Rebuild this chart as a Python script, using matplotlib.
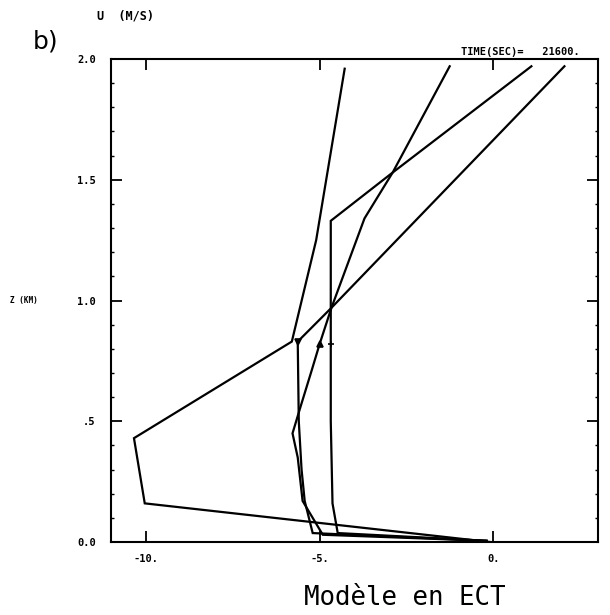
import numpy as np
import matplotlib.pyplot as plt
from matplotlib.ticker import MultipleLocator

# profils U (m/s) en fonction de Z (km)
u1 = [-0.1, -10.03, -10.34, -5.80, -5.10, -4.28]
z1 = [0.0, 0.16, 0.43, 0.83, 1.25, 1.96]

u2 = [-0.2, -5.20, -5.43, -5.52, -5.60, -5.63, -4.66, 2.04]
z2 = [0.005, 0.037, 0.17, 0.30, 0.50, 0.83, 0.97, 1.97]

u3 = [-0.2, -4.48, -4.63, -4.68, -4.68, -2.90, 1.09]
z3 = [0.005, 0.037, 0.16, 0.50, 1.33, 1.53, 1.97]

u4 = [-0.2, -4.91, -5.20, -5.49, -5.63, -5.78, -5.55, -5.23, -5.00,
      -4.66, -3.71, -2.90, -1.26]
z4 = [0.005, 0.03, 0.10, 0.17, 0.35, 0.45, 0.56, 0.71, 0.82,
      0.97, 1.34, 1.53, 1.97]

# marqueurs vers z = 0.82
mk_u = [-5.63, -5.00, -4.68]
mk_z = [0.83, 0.82, 0.82]
mk_s = ["v", "^", "+"]

xticks = [-10, -5, 0]
xlabels = ["-10.", "-5.", "0."]
yticks = [0.0, 0.5, 1.0, 1.5, 2.0]
ylabels = ["0.0", ".5", "1.0", "1.5", "2.0"]

MONO = "DejaVu Sans Mono"

fig = plt.figure(figsize=(6.1, 6.15), dpi=100)
ax = fig.add_axes([0.182, 0.1187, 0.798, 0.7853])

for u, z in [(u1, z1), (u2, z2), (u3, z3), (u4, z4)]:
    ax.plot(u, z, color="black", lw=1.6, solid_joinstyle="miter")
for u, z, m in zip(mk_u, mk_z, mk_s):
    ax.plot(u, z, marker=m, color="black", ms=4, mew=1.2)

ax.set_xlim(-11, 3)
ax.set_ylim(0, 2)
ax.set_xticks(xticks)
ax.set_xticklabels(xlabels, family=MONO, fontsize=7.5, fontweight="bold")
ax.set_yticks(yticks)
ax.set_yticklabels(ylabels, family=MONO, fontsize=7.5, fontweight="bold")
ax.yaxis.set_minor_locator(MultipleLocator(0.1))
ax.tick_params(which="major", direction="in", length=8, width=1.3,
               top=True, right=True)
ax.tick_params(axis="x", which="major", pad=9)
ax.tick_params(axis="y", which="major", pad=11)
ax.tick_params(which="minor", direction="in", length=2.5, width=1,
               left=True, right=True)
for s in ax.spines.values():
    s.set_linewidth(1.5)

fig.text(97 / 610, 1 - 16 / 615, "U  (M/S)", family=MONO, fontsize=8.5,
         fontweight="bold", ha="left", va="center")
fig.text(33 / 610, 1 - 42 / 615, "b)", family="DejaVu Sans", fontsize=18,
         ha="left", va="center")
fig.text(580 / 610, 1 - 52 / 615, "TIME(SEC)=   21600.", family=MONO,
         fontsize=7.5, fontweight="bold", ha="right", va="center")
fig.text(10 / 610, 1 - 300 / 615, "Z (KM)", family=MONO, fontsize=5.5,
         fontweight="bold", ha="left", va="center")
fig.text(405 / 610, 1 - 598 / 615, "Modèle en ECT", family=MONO,
         fontsize=18.5, ha="center", va="center")

fig.savefig("out.png", dpi=100)
